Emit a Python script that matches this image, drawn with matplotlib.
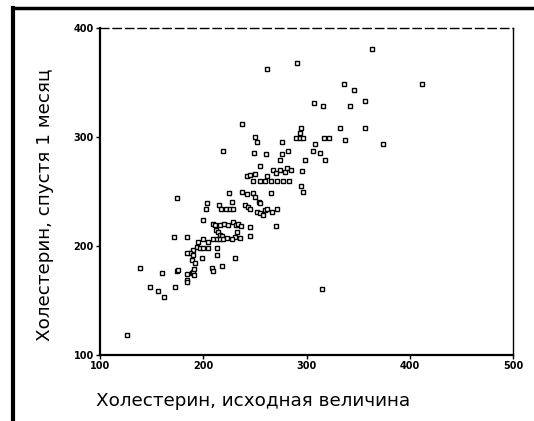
import matplotlib
matplotlib.use("Agg")
import matplotlib.pyplot as plt
from matplotlib.lines import Line2D

# Холестерин, исходная величина (x) и спустя 1 месяц (y)
x_init = [363, 262, 291, 336, 346, 412, 307, 316, 342, 357, 332, 357, 295, 294, 238,
          290, 294, 297, 317, 322, 337, 374, 250, 252, 276, 219, 249, 261, 276, 282,
          306, 308, 313, 274, 299, 318, 255, 268, 274, 279, 281, 285, 296, 242, 245,
          250, 262, 270, 248, 255, 260, 266, 271, 277, 283, 295, 297, 266, 238, 242,
          248, 250, 254, 255, 225, 175, 204, 203, 215, 217, 222, 226, 229, 228, 240,
          243, 245, 252, 255, 260, 262, 258, 267, 271, 200, 209, 211, 216, 220, 224,
          229, 232, 234, 237, 212, 214, 216, 218, 245, 245, 270, 233, 231, 172, 184,
          200, 205, 209, 213, 216, 219, 223, 228, 236, 195, 194, 190, 187, 184, 197,
          200, 205, 213, 213, 190, 189, 192, 199, 231, 218, 208, 209, 139, 160, 175,
          176, 184, 189, 190, 191, 184, 184, 191, 173, 148, 156, 162, 315, 126]
y_month = [381, 362, 368, 349, 343, 349, 331, 328, 328, 333, 308, 308, 308, 304, 312,
           299, 299, 299, 299, 299, 297, 294, 300, 295, 295, 287, 285, 284, 284, 287,
           287, 294, 285, 279, 279, 279, 273, 270, 270, 268, 272, 270, 269, 264, 265,
           266, 264, 267, 260, 260, 260, 260, 260, 260, 260, 255, 250, 249, 250, 248,
           249, 245, 240, 239, 249, 244, 239, 234, 238, 234, 234, 234, 234, 240, 238,
           236, 234, 231, 230, 233, 234, 228, 231, 234, 224, 220, 219, 219, 220, 219,
           222, 219, 220, 218, 215, 213, 210, 209, 217, 209, 218, 213, 208, 208, 208,
           206, 204, 206, 206, 206, 206, 207, 206, 207, 204, 199, 196, 194, 194, 198,
           198, 198, 198, 192, 192, 187, 184, 189, 189, 182, 180, 177, 180, 175, 177,
           178, 174, 175, 176, 179, 169, 167, 173, 162, 162, 159, 153, 161, 118]

x_ticks = [100, 200, 300, 400, 500]
y_ticks = [100, 200, 300, 400]
x_label = "Холестерин, исходная величина"
y_label = "Холестерин, спустя 1 месяц"

fig = plt.figure(figsize=(5.34, 4.21), dpi=100)
ax = fig.add_axes([100/534, 1-355/421, 413/534, 327/421])

ax.plot(x_init, y_month, linestyle="none", marker="s", markersize=3.2,
        markerfacecolor="white", markeredgecolor="black", markeredgewidth=1.0)

ax.set_xlim(100, 500)
ax.set_ylim(100, 400)
ax.set_xticks(x_ticks)
ax.set_yticks(y_ticks)
ax.tick_params(axis="both", direction="out", length=3, width=1, labelsize=7,
               pad=1.5)
for lab in ax.get_xticklabels() + ax.get_yticklabels():
    lab.set_fontweight("bold")

ax.spines["left"].set_linewidth(1.6)
ax.spines["bottom"].set_linewidth(1.6)
ax.spines["top"].set_linewidth(1.0)
ax.spines["top"].set_linestyle((0, (6, 3)))
ax.spines["right"].set_linewidth(1.0)

fig.text(45/534, 1-205/421, y_label, rotation=90, ha="center", va="center",
         fontsize=13.2, family="DejaVu Sans")
fig.text(253/534, 1-401/421, x_label, ha="center", va="center",
         fontsize=13.2, family="DejaVu Sans")

# outer scanned frame
fig.add_artist(Line2D([13/534, 13/534], [0, 1-8/421], transform=fig.transFigure,
                      color="black", linewidth=3))
fig.add_artist(Line2D([13/534, 1], [1-8/421, 1-8/421], transform=fig.transFigure,
                      color="black", linewidth=2.5))

fig.savefig("out.png", dpi=100)
